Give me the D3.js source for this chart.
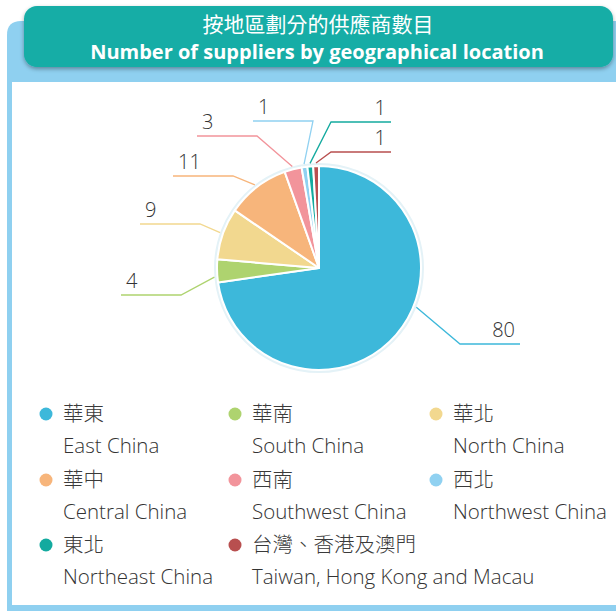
<!DOCTYPE html>
<html>
<head>
<meta charset="utf-8">
<script src="https://cdn.jsdelivr.net/npm/d3@7"></script>
<style>
  body { margin: 0; background: #fff; }
  svg { display: block; }
</style>
</head>
<body>
<svg id="chart" width="616" height="611"></svg>
<script>
// Supplier counts by region
const regionsZh = ["華東", "華南", "華北", "華中", "西南", "西北", "東北", "台灣、香港及澳門"];
const regionsEn = ["East China", "South China", "North China", "Central China",
                   "Southwest China", "Northwest China", "Northeast China", "Taiwan, Hong Kong and Macau"];
const supplierCounts = [80, 4, 9, 11, 3, 1, 1, 1];
const sliceColors = ["#3db8da", "#aed36f", "#f2d88f", "#f7b57b", "#f2949b", "#90d1f1", "#13aa9f", "#b84f4f"];

const titleZh = "按地區劃分的供應商數目";
const titleEn = "Number of suppliers by geographical location";

// Leader-line layout: elbow offset from the pie centre, optional anchor angle (deg, clockwise from 12 o'clock)
const labelElbow = [[141, 76], [-138, 27], [-119, -44], [-86, -92], [-62, -132], [-6, -147], [12, -146], [12, -116]];
const labelAnchorDeg = [112, 265, null, null, null, null, null, null];
const leaderTail = 60;

const svg = d3.select("#chart");
const W = 616, H = 611;
const LATIN = "'Open Sans', 'DejaVu Sans', sans-serif";
const CJK = "'Noto Sans CJK TC', 'Noto Sans CJK SC', sans-serif";

// Drop shadow for the header banner
const defs = svg.append("defs");
const sh = defs.append("filter").attr("id", "bannerShadow")
  .attr("x", "-5%").attr("y", "-20%").attr("width", "110%").attr("height", "150%");
sh.append("feDropShadow").attr("dx", 0).attr("dy", 2).attr("stdDeviation", 2)
  .attr("flood-color", "#000").attr("flood-opacity", 0.35);

// Light blue panel with rounded top-left corner
const px = 7, py = 21, pr = 14;
svg.append("path")
  .attr("d", `M${px},${H} L${px},${py + pr} Q${px},${py} ${px + pr},${py} L${W},${py} L${W},${H} Z`)
  .attr("fill", "#8fd0f0");
// White content area
svg.append("rect").attr("x", 12).attr("y", 82).attr("width", W - 12).attr("height", 605 - 82).attr("fill", "#fff");

// Header banner
svg.append("rect").attr("x", 24).attr("y", 6).attr("width", 589).attr("height", 61).attr("rx", 13)
  .attr("fill", "#13ada6").attr("filter", "url(#bannerShadow)");
svg.append("text").attr("x", 318).attr("y", 32).attr("text-anchor", "middle")
  .attr("font-family", CJK).attr("font-size", 21).attr("fill", "#fff").text(titleZh);
svg.append("text").attr("x", 317).attr("y", 59).attr("text-anchor", "middle")
  .attr("font-family", LATIN).attr("font-weight", 700).attr("font-size", 20).attr("fill", "#fff").text(titleEn);

// Pie
const cx = 319, cy = 268, R = 102;
const g = svg.append("g").attr("transform", `translate(${cx},${cy})`);
const pie = d3.pie().sort(null).value(d => d.value);
const arcs = pie(supplierCounts.map((v, i) => ({ value: v, i })));
const arc = d3.arc().innerRadius(0).outerRadius(R);

// soft halo around the pie
g.append("circle").attr("r", R + 1.5).attr("fill", "none").attr("stroke", "#e4f2f7").attr("stroke-width", 3);

g.selectAll("path.slice").data(arcs).join("path")
  .attr("class", "slice")
  .attr("d", arc)
  .attr("fill", d => sliceColors[d.data.i])
  .attr("stroke", "#fff").attr("stroke-width", 2).attr("stroke-linejoin", "round");

// Leader lines and value labels
const labels = g.selectAll("g.lbl").data(arcs).join("g").attr("class", "lbl");
labels.each(function (d) {
  const i = d.data.i;
  const a = labelAnchorDeg[i] != null ? labelAnchorDeg[i] * Math.PI / 180 : (d.startAngle + d.endAngle) / 2;
  const r0 = R + 3;
  const p0 = [r0 * Math.sin(a), -r0 * Math.cos(a)];
  const p1 = labelElbow[i];
  const right = p1[0] > 0;
  const p2 = [p1[0] + (right ? leaderTail : -leaderTail), p1[1]];
  const sel = d3.select(this);
  sel.append("path")
    .attr("d", d3.line()([p0, p1, p2]))
    .attr("fill", "none").attr("stroke", sliceColors[i]).attr("stroke-width", 1.3);
  sel.append("text")
    .attr("x", p2[0] + (right ? -5 : 5))
    .attr("y", p2[1] - 7)
    .attr("text-anchor", right ? "end" : "start")
    .attr("font-family", LATIN).attr("font-weight", 300).attr("font-size", 20).attr("fill", "#333")
    .text(supplierCounts[i]);
});

// Legend: three columns, two text lines per entry
const colX = [46, 235, 436];
const rowY = [414, 480, 545];
const legend = svg.append("g");
regionsZh.forEach((zh, i) => {
  const x = colX[i % 3], y = rowY[Math.floor(i / 3)];
  const item = legend.append("g");
  item.append("circle").attr("cx", x).attr("cy", y).attr("r", 6.5).attr("fill", sliceColors[i]);
  item.append("text").attr("x", x + 17).attr("y", y + 7)
    .attr("font-family", CJK).attr("font-weight", 300).attr("font-size", 20.5).attr("fill", "#3a3a3a").text(zh);
  item.append("text").attr("x", x + 17).attr("y", y + 39)
    .attr("font-family", LATIN).attr("font-weight", 300).attr("font-size", 20.5).attr("fill", "#333").text(regionsEn[i]);
});
</script>
</body>
</html>
